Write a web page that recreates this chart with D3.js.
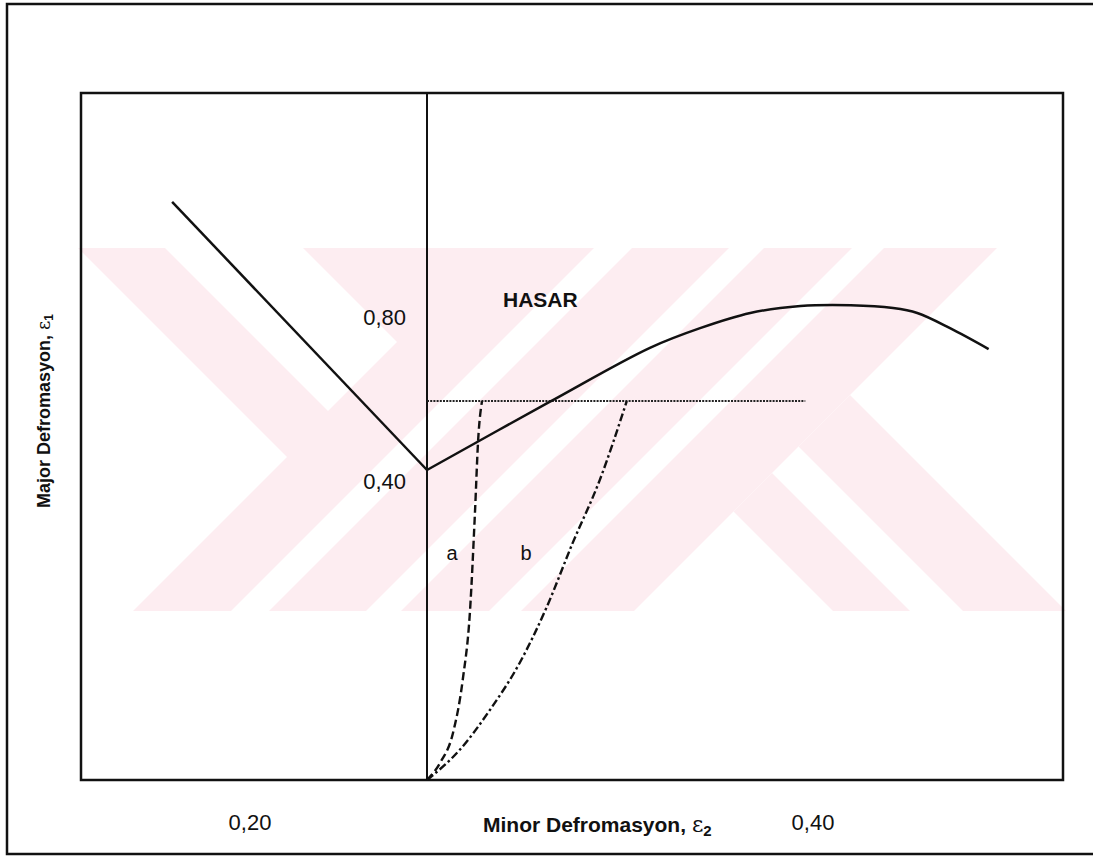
<!DOCTYPE html>
<html>
<head>
<meta charset="utf-8">
<script src="https://cdn.jsdelivr.net/npm/d3@7"></script>
<style>
body { margin: 0; background: #fff; }
text { font-family: "Liberation Sans", Arial, sans-serif; fill: #111; }
</style>
</head>
<body>
<svg id="chart" width="1093" height="856"></svg>
<script>
// forming limit curve, left branch (negative minor strain)
var flcLeftX = [-0.288, 0];
var flcLeftY = [1.054, 0.40];
// forming limit curve, right branch
var flcRightX = [0, 0.127, 0.231, 0.283, 0.335, 0.387, 0.439, 0.483, 0.508, 0.542, 0.582];
var flcRightY = [0.40, 0.566, 0.698, 0.746, 0.783, 0.800, 0.802, 0.795, 0.783, 0.746, 0.695];
// strain path a (dashed)
var pathAX = [0, 0.0135, 0.027, 0.037, 0.0446, 0.0497, 0.053, 0.057];
var pathAY = [0, 0.022, 0.061, 0.129, 0.219, 0.345, 0.473, 0.568];
// strain path b (dash-dot)
var pathBX = [0, 0.034, 0.065, 0.096, 0.124, 0.151, 0.179, 0.207];
var pathBY = [0, 0.039, 0.090, 0.151, 0.223, 0.306, 0.387, 0.568];
// dotted limit level
var limitX = [0, 0.392];
var limitY = [0.568, 0.568];

var xTickValues = [-0.2, 0.4];
var xTickLabels = ["0,20", "0,40"];
var yTickValues = [0.4, 0.8];
var yTickLabels = ["0,40", "0,80"];

var svg = d3.select("#chart");
var plotLeft = 81, plotTop = 93, plotRight = 1063, plotBottom = 780;

// the sketch is not drawn to a uniform scale, so the scales are piecewise
var x = d3.scaleLinear().domain([-0.2, 0, 0.4]).range([250, 427, 813]);
var y = d3.scaleLinear().domain([0, 0.4, 0.8]).range([plotBottom, 470, 306]);

function zip(a, b) { return a.map(function(v, i) { return [v, b[i]]; }); }

// background watermark (decoration only)
var pink = "#fdedf1";
var wm = svg.append("g");
wm.append("clipPath").attr("id", "wmclip")
  .append("rect").attr("x", 73).attr("y", 248).attr("width", 1020).attr("height", 363);
var wg = wm.append("g").attr("clip-path", "url(#wmclip)");
wg.append("rect").attr("x", 73).attr("y", 248).attr("width", 1020).attr("height", 363).attr("fill", pink);
var whites = [
  [[0,248],[78,248],[287,457],[133,611],[0,611]],
  [[165,248],[303,248],[397,342],[328,411]],
  [[997,248],[1200,248],[1200,611],[634,611]]
];
[[842,880],[977,1012],[1100,1132]].forEach(function(c) {
  whites.push([[c[0]-248,248],[c[1]-248,248],[c[1]-611,611],[c[0]-611,611]]);
});
whites.forEach(function(p) {
  wg.append("polygon").attr("points", p.join(" ")).attr("fill", "#fff");
});
[[222,299],[352,455]].forEach(function(s) {
  var a = s[0], b = s[1];
  var pts = [[(1245+a)/2,(1245-a)/2],[(1245+b)/2,(1245-b)/2],[b+611,611],[a+611,611]];
  wg.append("polygon").attr("points", pts.join(" ")).attr("fill", pink);
});

// frames
svg.append("rect").attr("x", 7).attr("y", 4).attr("width", 1110).attr("height", 850)
  .attr("fill", "none").attr("stroke", "#111").attr("stroke-width", 2.5);
svg.append("rect").attr("x", plotLeft).attr("y", plotTop)
  .attr("width", plotRight - plotLeft).attr("height", plotBottom - plotTop)
  .attr("fill", "none").attr("stroke", "#111").attr("stroke-width", 2.5);

// vertical axis at zero minor strain
svg.append("line").attr("x1", x(0)).attr("x2", x(0)).attr("y1", plotTop).attr("y2", plotBottom)
  .attr("stroke", "#111").attr("stroke-width", 2);

var straight = d3.line().x(function(d) { return x(d[0]); }).y(function(d) { return y(d[1]); });
var smooth = d3.line().x(function(d) { return x(d[0]); }).y(function(d) { return y(d[1]); })
  .curve(d3.curveMonotoneX);
var rounded = d3.line().x(function(d) { return x(d[0]); }).y(function(d) { return y(d[1]); })
  .curve(d3.curveCatmullRom.alpha(0.5));

svg.append("path").attr("d", straight(zip(limitX, limitY)))
  .attr("fill", "none").attr("stroke", "#222").attr("stroke-width", 2).attr("stroke-dasharray", "2,1.2");

svg.append("path").attr("d", straight(zip(flcLeftX, flcLeftY)))
  .attr("fill", "none").attr("stroke", "#111").attr("stroke-width", 2.5);
svg.append("path").attr("d", rounded(zip(flcRightX, flcRightY)))
  .attr("fill", "none").attr("stroke", "#111").attr("stroke-width", 2.5);

svg.append("path").attr("d", smooth(zip(pathAX, pathAY)))
  .attr("fill", "none").attr("stroke", "#111").attr("stroke-width", 2.4).attr("stroke-dasharray", "8,4");
svg.append("path").attr("d", smooth(zip(pathBX, pathBY)))
  .attr("fill", "none").attr("stroke", "#111").attr("stroke-width", 2.4).attr("stroke-dasharray", "8,3,2.5,3");

// tick labels
svg.selectAll(".xt").data(xTickValues).enter().append("text")
  .attr("x", function(d) { return x(d); }).attr("y", 830)
  .attr("text-anchor", "middle").attr("font-size", 22)
  .text(function(d, i) { return xTickLabels[i]; });
svg.selectAll(".yt").data(yTickValues).enter().append("text")
  .attr("x", 406).attr("y", function(d) { return y(d) + 19; })
  .attr("text-anchor", "end").attr("font-size", 22)
  .text(function(d, i) { return yTickLabels[i]; });

// axis titles
var xt = svg.append("text").attr("x", 483).attr("y", 832).attr("font-size", 21).attr("font-weight", "bold");
xt.append("tspan").text("Minor Defromasyon, ");
xt.append("tspan").attr("font-weight", "normal").attr("font-family", "DejaVu Serif").attr("font-size", 22).text("ε");
xt.append("tspan").attr("font-size", 15).attr("dy", 4).text("2");

var yt = svg.append("text").attr("transform", "translate(50,411) rotate(-90)")
  .attr("text-anchor", "middle").attr("font-size", 18).attr("font-weight", "bold");
yt.append("tspan").text("Major Defromasyon, ");
yt.append("tspan").attr("font-weight", "normal").attr("font-family", "DejaVu Serif").text("ε");
yt.append("tspan").attr("font-size", 12).attr("dy", 3).text("1");

// annotations
svg.append("text").attr("x", 503).attr("y", 307).attr("font-size", 21).attr("font-weight", "bold").text("HASAR");
svg.append("text").attr("x", 452).attr("y", 560).attr("text-anchor", "middle").attr("font-size", 20).text("a");
svg.append("text").attr("x", 526).attr("y", 560).attr("text-anchor", "middle").attr("font-size", 20).text("b");
</script>
</body>
</html>
